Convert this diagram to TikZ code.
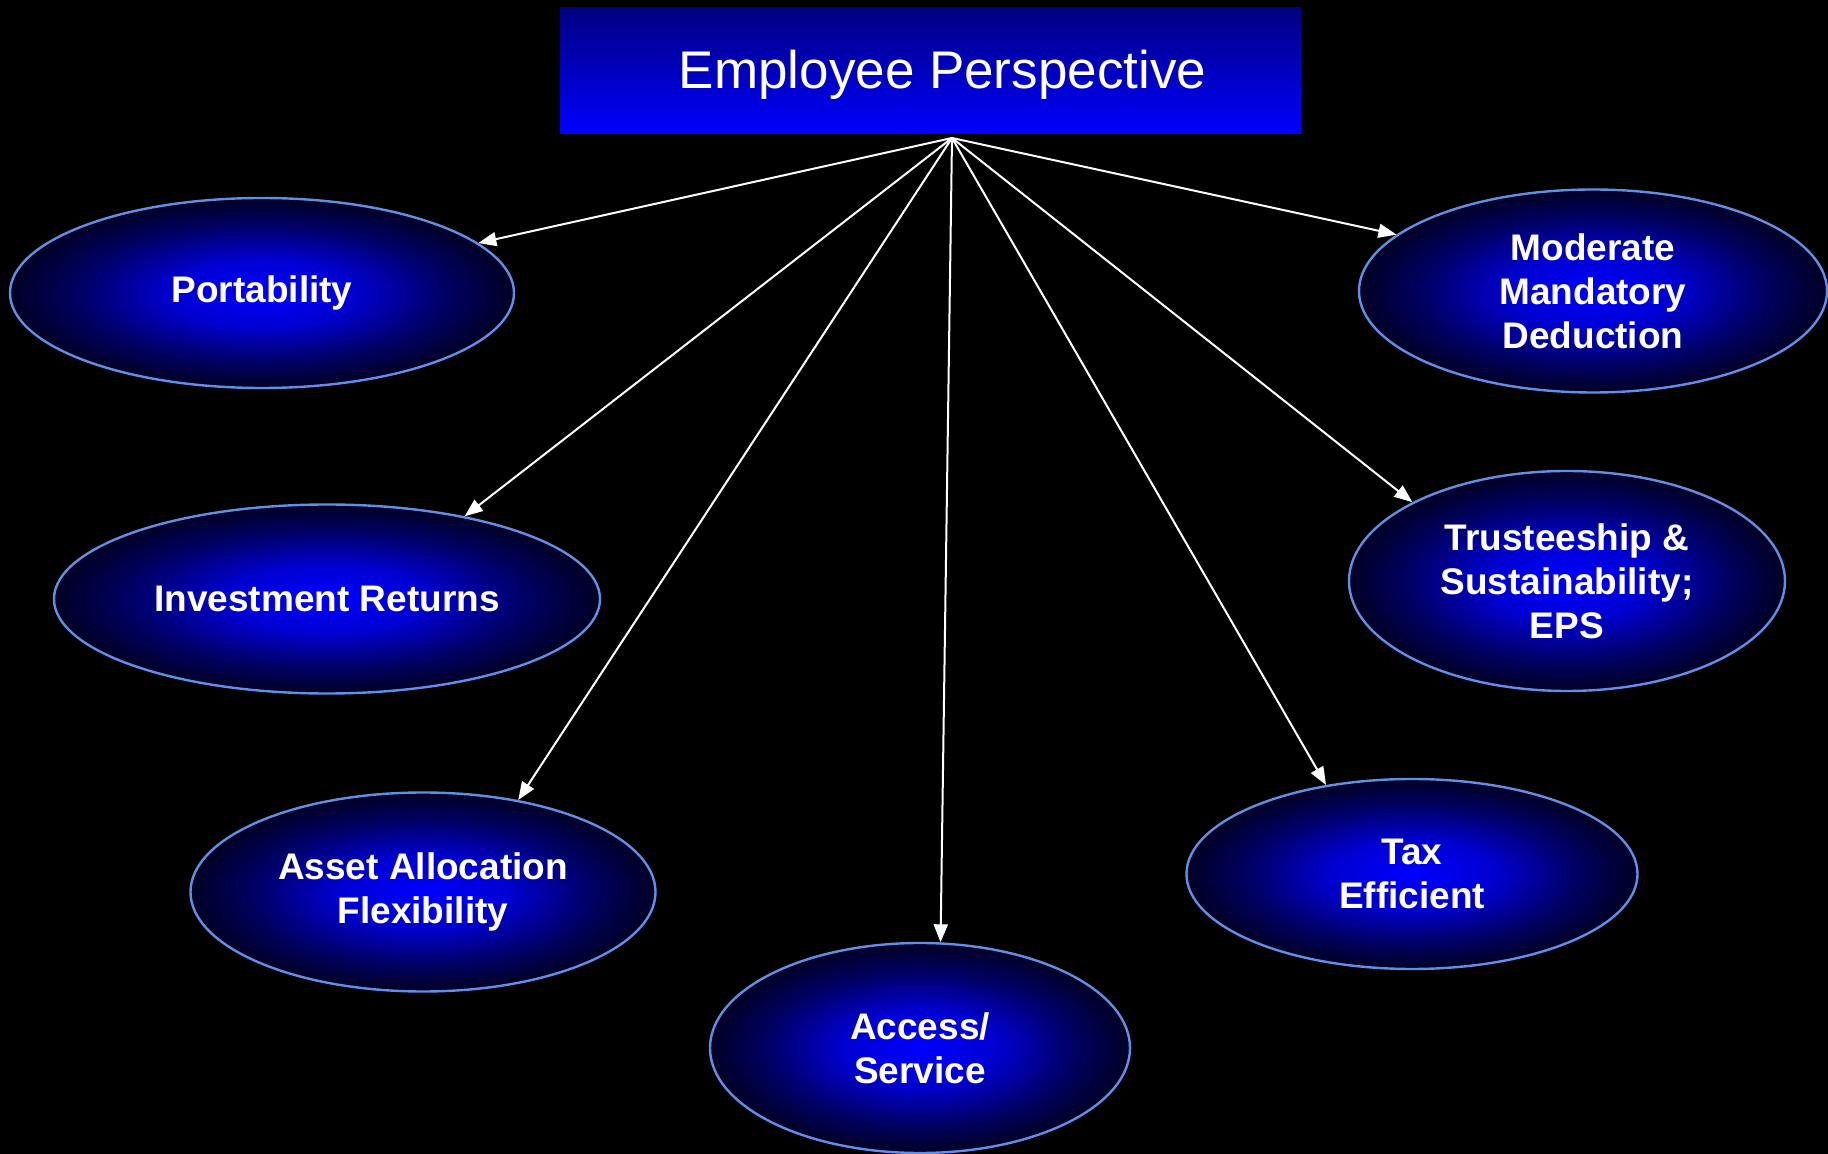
\documentclass[tikz,border=0pt]{standalone}
\usepackage{fontspec}
\setmainfont{Liberation Sans}
\usetikzlibrary{shapes.geometric,arrows.meta}
\definecolor{rim}{RGB}{95,143,230}
\definecolor{navytop}{RGB}{0,0,128}
\pgfdeclareradialshading{orb}{\pgfpoint{0bp}{0bp}}{color(0bp)=(blue); color(9bp)=(blue!82!black); color(18bp)=(blue!40!black); color(25bp)=(blue!14!black); color(50bp)=(blue!14!black)}
\tikzset{
  topic/.style={ellipse,draw=rim,line width=1.2pt,shading=orb,inner sep=0pt,
    text=white,align=center,font=\bfseries\fontsize{18.5}{22}\selectfont},
  link/.style={white,line width=1pt,-{Triangle[length=9pt,width=7pt]}}
}
\begin{document}
\begin{tikzpicture}[x=0.5pt,y=-0.5pt]
  \path[use as bounding box,fill=black] (0,0) rectangle (1828,1154);
  \node (head) at (930.5,71) [top color=navytop,bottom color=blue,minimum width=370.5pt,
    minimum height=63pt,text=white,font=\fontsize{26.5}{32}\selectfont] {\hspace*{12pt}\raisebox{-9pt}[0pt][0pt]{Employee Perspective}};
  \coordinate (hub) at (952,138);
  \node (port) at (262,293) [topic,minimum width=252pt,minimum height=95pt] {Portability};
  \node (invest) at (327,599) [topic,minimum width=273pt,minimum height=94.5pt] {Investment Returns};
  \node (asset) at (423,892) [topic,minimum width=232.5pt,minimum height=99.5pt] {Asset Allocation\\Flexibility};
  \node (access) at (920,1048) [topic,minimum width=210pt,minimum height=105pt] {Access/\\Service};
  \node (tax) at (1412,874) [topic,minimum width=225.5pt,minimum height=95pt] {Tax\\Efficient};
  \node (trust) at (1567,581) [topic,minimum width=218pt,minimum height=110pt] {Trusteeship \&\\Sustainability;\\EPS};
  \node (deduct) at (1593,291) [topic,minimum width=234pt,minimum height=101.5pt] {Moderate\\Mandatory\\Deduction};
  \draw[link] (hub) -- (port.13);
  \draw[link] (hub) -- (invest.31);
  \draw[link] (hub) -- (asset.44);
  \draw[link] (hub) -- (access.79);
  \draw[link] (hub) -- (tax.134);
  \draw[link] (hub) -- (trust.153);
  \draw[link] (hub) -- (deduct.164);
\end{tikzpicture}
\end{document}
